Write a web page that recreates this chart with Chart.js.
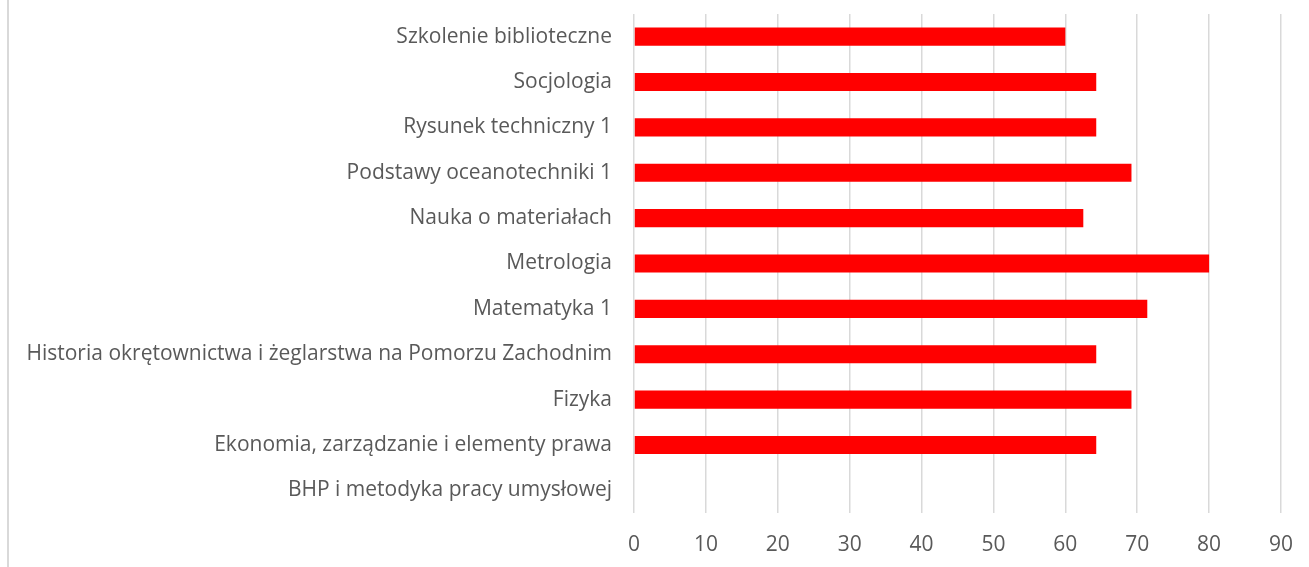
<!DOCTYPE html>
<html>
<head>
<meta charset="utf-8">
<script src="https://cdn.jsdelivr.net/npm/chart.js@4.4.1/dist/chart.umd.min.js"></script>
<style>
  html, body { margin: 0; padding: 0; background: #fff; }
  #wrap { position: relative; width: 1309px; height: 567px; }
  #edge { position: absolute; left: 7px; top: 0; width: 2px; height: 567px; background: #d9d9d9; }
</style>
</head>
<body>
<div id="wrap">
  <div id="edge"></div>
  <canvas id="chart" width="1309" height="567"></canvas>
</div>
<script>
// subjects, top to bottom as in the picture
const subjects = [
  'Szkolenie biblioteczne',
  'Socjologia',
  'Rysunek techniczny 1',
  'Podstawy oceanotechniki 1',
  'Nauka o materiałach',
  'Metrologia',
  'Matematyka 1',
  'Historia okrętownictwa i żeglarstwa na Pomorzu Zachodnim',
  'Fizyka',
  'Ekonomia, zarządzanie i elementy prawa',
  'BHP i metodyka pracy umysłowej'
];
const scores = [60, 64.3, 64.3, 69.2, 62.5, 80, 71.4, 64.3, 69.2, 64.3, 0];
const xMax = 90;
const xStep = 10;

const fontFamily = "'Open Sans', 'Noto Sans', sans-serif";

// pick a label size so the longest subject fills the same width as the original
const probe = document.createElement('canvas').getContext('2d');
probe.font = '18px ' + fontFamily;
const w18 = probe.measureText(subjects[7]).width;
const labelSize = Math.round(18 * 586 / w18 * 10) / 10;

new Chart(document.getElementById('chart'), {
  type: 'bar',
  data: {
    labels: subjects,
    datasets: [{
      data: scores,
      backgroundColor: '#ff0000',
      borderWidth: 0,
      categoryPercentage: 1,
      barPercentage: 0.4
    }]
  },
  options: {
    indexAxis: 'y',
    responsive: false,
    animation: false,
    layout: { padding: { top: 14, right: 28, bottom: 0, left: 0 } },
    plugins: {
      legend: { display: false },
      tooltip: { enabled: false }
    },
    scales: {
      x: {
        min: 0,
        max: xMax,
        ticks: {
          stepSize: xStep,
          color: '#595959',
          font: { family: fontFamily, size: labelSize },
          padding: 19
        },
        grid: { color: '#d9d9d9', lineWidth: 1.5, drawTicks: false },
        border: { display: false },
        afterFit: s => { s.height = 54; s.paddingLeft = 0; s.paddingRight = 0; }
      },
      y: {
        ticks: {
          color: '#595959',
          font: { family: fontFamily, size: labelSize },
          padding: 0
        },
        // hidden tick marks still push the labels 22px away from the bars
        grid: { display: false, drawTicks: true, tickLength: 22 },
        border: { display: false },
        afterFit: s => { s.width = 634; s.paddingTop = 0; s.paddingBottom = 0; }
      }
    }
  }
});
</script>
</body>
</html>
